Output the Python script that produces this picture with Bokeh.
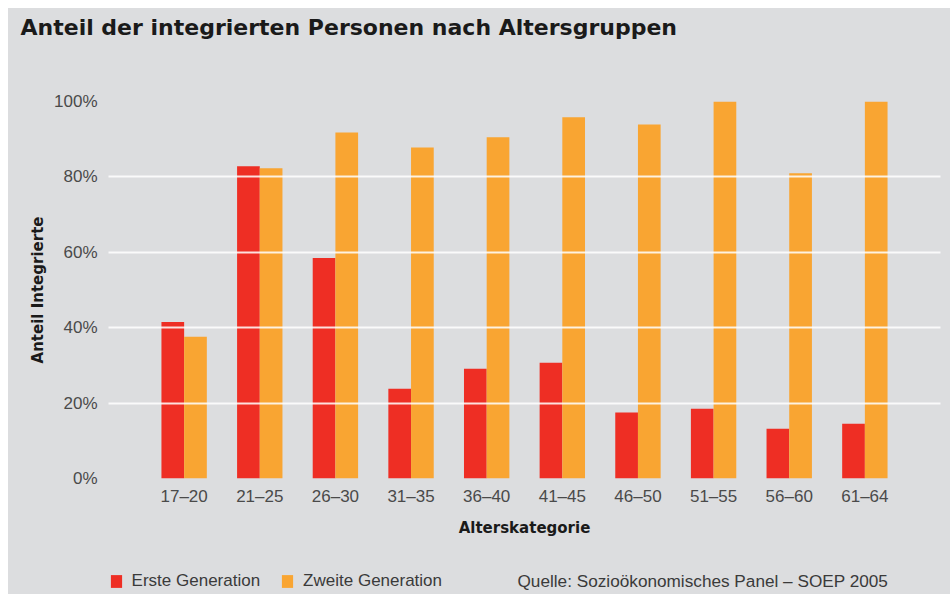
from bokeh.plotting import figure
from bokeh.layouts import column
from bokeh.models import (FactorRange, Range1d, SingleIntervalTicker, PrintfTickFormatter,
                          Legend, LegendItem, ColumnDataSource, Title, Label)
from bokeh.transform import dodge
from bokeh.embed import file_html
from bokeh.resources import INLINE

categories = ["17–20", "21–25", "26–30", "31–35", "36–40",
              "41–45", "46–50", "51–55", "56–60", "61–64"]
erste = [41.5, 82.8, 58.5, 23.8, 29.1, 30.7, 17.5, 18.5, 13.2, 14.5]
zweite = [37.6, 82.3, 91.8, 87.8, 90.5, 95.8, 93.9, 100.0, 81.0, 100.0]
series_names = ["Erste Generation", "Zweite Generation"]
source_text = "Quelle: Sozioökonomisches Panel – SOEP 2005"
title_text = "Anteil der integrierten Personen nach Altersgruppen"

RED = "#ee2e24"
ORANGE = "#f9a532"
BG = "#dcdddf"

src = ColumnDataSource(dict(cat=categories, erste=erste, zweite=zweite))

p = figure(width=942, height=531, output_backend="svg", toolbar_location=None,
           x_range=FactorRange(*categories, range_padding=0.5, range_padding_units="absolute"),
           y_range=Range1d(0, 100),
           min_border_left=100, min_border_right=10, min_border_top=93, min_border_bottom=60)
p.styles = {"background-color": BG}
p.background_fill_color = BG
p.border_fill_color = BG
p.outline_line_color = None
p.title.text = ""

p.vbar(x=dodge("cat", -0.15, range=p.x_range), top="erste", width=0.3, source=src,
       fill_color=RED, line_color=None)
p.vbar(x=dodge("cat", 0.15, range=p.x_range), top="zweite", width=0.3, source=src,
       fill_color=ORANGE, line_color=None)

p.xgrid.grid_line_color = None
p.ygrid.grid_line_color = "white"
p.ygrid.grid_line_width = 2
p.ygrid.grid_line_alpha = 0.85
p.ygrid.level = "overlay"
p.yaxis.ticker = SingleIntervalTicker(interval=20)
p.yaxis.formatter = PrintfTickFormatter(format="%d%%")

for ax in (p.xaxis[0], p.yaxis[0]):
    ax.axis_line_color = None
    ax.major_tick_line_color = None
    ax.minor_tick_line_color = None
    ax.major_tick_out = 0
    ax.major_tick_in = 0
    ax.minor_tick_out = 0
    ax.minor_tick_in = 0
    ax.major_label_text_font = "Liberation Sans"
    ax.major_label_text_font_size = "17px"
    ax.major_label_text_color = "#4a4a4a"
    ax.axis_label_text_font = "DejaVu Sans"
    ax.axis_label_text_font_style = "bold"
    ax.axis_label_text_font_size = "15px"
    ax.axis_label_text_color = "#1a1a1a"

p.xaxis.axis_label = "Alterskategorie"
p.xaxis.major_label_standoff = 8
p.xaxis.axis_label_standoff = 10
p.yaxis.axis_label = "Anteil Integrierte"
p.yaxis.major_label_standoff = 11
p.yaxis.axis_label_standoff = 4

# spacer (nearest the frame), then the real title further out
p.add_layout(Title(text="\u00a0", text_font_size="10px", standoff=49,
                   text_color=BG), "above")
p.add_layout(Title(text=title_text, align="left", offset=-88, standoff=0,
                   vertical_align="bottom",
                   text_font="DejaVu Sans", text_font_style="bold", text_font_size="22px",
                   text_color="#1a1a1a"), "above")

# footer with legend and source
f = figure(width=942, height=55, output_backend="svg", toolbar_location=None,
           x_range=Range1d(0, 832), y_range=Range1d(0, 55),
           x_axis_type=None, y_axis_type=None,
           min_border_left=0, min_border_right=0, min_border_top=0, min_border_bottom=0)
f.styles = {"background-color": BG}
f.background_fill_color = BG
f.border_fill_color = BG
f.outline_line_color = None
f.xgrid.visible = False
f.ygrid.visible = False

leg_src = ColumnDataSource(dict(name=series_names, color=[RED, ORANGE]))
k = f.vbar(x=0, top=0, bottom=0, width=0, fill_color="color", line_color=None, source=leg_src)

legend = Legend(items=[LegendItem(label=series_names[0], renderers=[k], index=0),
                       LegendItem(label=series_names[1], renderers=[k], index=1)],
                orientation="horizontal", location=(0.6, 3.5),
                glyph_width=14, glyph_height=16, label_standoff=9, spacing=20,
                padding=0, margin=0, border_line_color=None, background_fill_alpha=0,
                label_text_font="Liberation Sans", label_text_font_size="17px",
                label_text_color="#3a3a3a", label_height=16)
f.add_layout(legend, "center")

f.add_layout(Label(x=409, y=14, text=source_text, text_baseline="middle",
                   text_font="Liberation Sans", text_font_size="17.2px",
                   text_color="#3a3a3a"))

layout = column(p, f, spacing=0)
layout.margin = (8, 0, 0, 8)
layout.styles = {"background-color": BG}

open("out.html", "w").write(file_html(layout, INLINE))
